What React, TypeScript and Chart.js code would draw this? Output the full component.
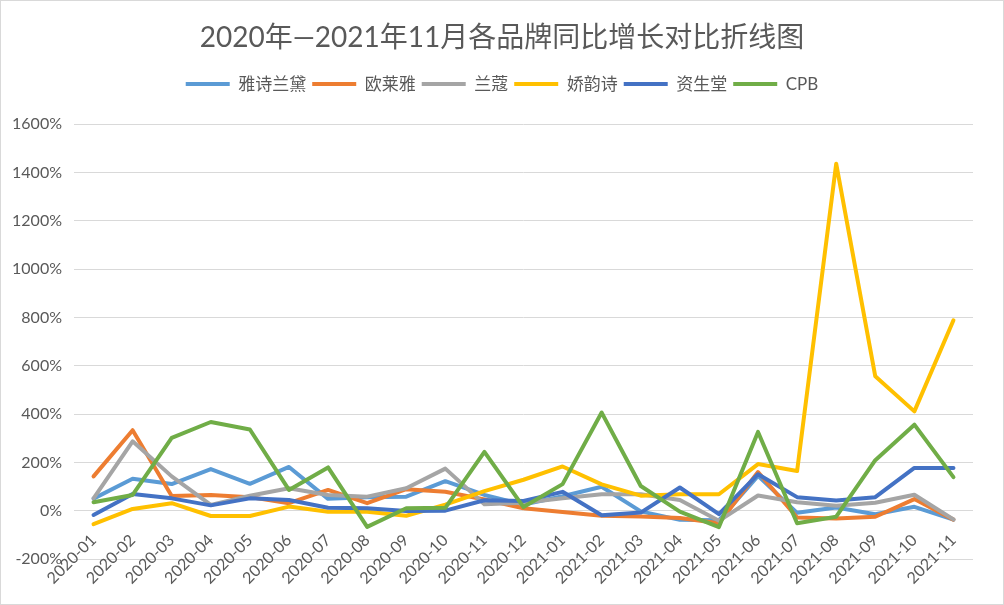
import React, { useEffect, useRef } from "react";
import { Chart, registerables } from "chart.js";

Chart.register(...registerables);

const months = [
  "2020-01", "2020-02", "2020-03", "2020-04", "2020-05", "2020-06",
  "2020-07", "2020-08", "2020-09", "2020-10", "2020-11", "2020-12",
  "2021-01", "2021-02", "2021-03", "2021-04", "2021-05", "2021-06",
  "2021-07", "2021-08", "2021-09", "2021-10", "2021-11",
];

const esteeLauder = [50, 132, 110, 172, 111, 181, 49, 56, 58, 122, 65, 25, 60, 99, -3, -38, -40, 144, -9, 13, -15, 16, -37];
const loreal = [142, 333, 61, 65, 56, 31, 86, 31, 89, 78, 46, 10, -5, -21, -24, -30, -52, 160, -28, -32, -25, 48, -37];
const lancome = [51, 287, 142, 24, 62, 93, 65, 58, 93, 174, 27, 33, 51, 68, 68, 44, -42, 63, 35, 20, 33, 66, -36];
const clarins = [-56, 7, 31, -22, -22, 17, -4, -4, -21, 25, 81, 128, 183, 109, 62, 68, 68, 193, 164, 1436, 556, 411, 788];
const shiseido = [-18, 69, 51, 22, 51, 44, 12, 10, -1, 0, 43, 40, 78, -19, -8, 96, -14, 151, 56, 42, 56, 177, 177];
const cpb = [35, 65, 301, 367, 336, 86, 179, -67, 10, 12, 243, 15, 110, 406, 102, -4, -68, 326, -52, -25, 209, 356, 139];

const seriesNames = ["雅诗兰黛", "欧莱雅", "兰蔻", "娇韵诗", "资生堂", "CPB"];
const seriesValues = [esteeLauder, loreal, lancome, clarins, shiseido, cpb];
const seriesColors = ["#5B9BD5", "#ED7D31", "#A5A5A5", "#FFC000", "#4472C4", "#70AD47"];

const titleText = "2020年—2021年11月各品牌同比增长对比折线图";
const yMin = -200;
const yMax = 1600;
const yStep = 200;

const FONT = "Lato, 'Noto Sans CJK SC', sans-serif";
const TEXT_COLOR = "#595959";

const legendSpacer = {
  id: "legendSpacer",
  beforeInit(chart: any) {
    const legend = chart.legend;
    if (!legend) return;
    const origFit = legend.fit;
    legend.fit = function fit() {
      origFit.call(this);
      this.height += 21.5;
    };
  },
};

export default function App() {
  const canvasRef = useRef<HTMLCanvasElement | null>(null);

  useEffect(() => {
    if (!canvasRef.current) return;
    const n = seriesNames.length;
    const chart = new Chart(canvasRef.current, {
      type: "line",
      data: {
        labels: months,
        datasets: seriesNames.map((name, i) => ({
          label: name,
          data: seriesValues[i],
          borderColor: seriesColors[i],
          backgroundColor: seriesColors[i],
          borderWidth: 4,
          pointRadius: 0,
          pointHoverRadius: 0,
          tension: 0,
          fill: false,
          borderCapStyle: "round",
          borderJoinStyle: "round",
          order: n - i,
          yAxisID: "y",
        })),
      },
      options: {
        responsive: false,
        animation: false,
        layout: { padding: { top: 0, right: 0, bottom: 46, left: 0 } },
        plugins: {
          title: {
            display: true,
            text: titleText,
            color: TEXT_COLOR,
            font: { family: FONT, size: 28, weight: "normal", lineHeight: 1.2 },
            padding: { top: 21, bottom: 15 },
          },
          legend: {
            display: true,
            position: "top",
            labels: {
              boxWidth: 44,
              boxHeight: 4,
              padding: 6,
              color: TEXT_COLOR,
              font: { family: FONT, size: 17 },
              sort: (a: any, b: any) => a.datasetIndex - b.datasetIndex,
              generateLabels: (c: any) =>
                (Chart.defaults.plugins.legend.labels.generateLabels as any)(c).map((l: any) => ({
                  ...l,
                  fillStyle: l.strokeStyle,
                  lineWidth: 0,
                })),
            },
          },
          tooltip: { enabled: false },
        },
        scales: {
          x: {
            type: "category",
            position: { y: 0 } as any,
            offset: true,
            grid: { display: false, drawTicks: false },
            border: { display: false },
            ticks: {
              color: TEXT_COLOR,
              font: { family: FONT, size: 16 },
              minRotation: 45,
              maxRotation: 45,
              autoSkip: false,
              padding: 20,
            },
          },
          y: {
            position: "left",
            min: yMin,
            max: yMax,
            ticks: {
              stepSize: yStep,
              color: TEXT_COLOR,
              font: { family: FONT, size: 16 },
              padding: 12,
              callback: (v: any) => `${v}%`,
            },
            grid: { color: "#d9d9d9", lineWidth: 1, drawTicks: false },
            border: { display: false },
            afterFit: (s: any) => {
              s.width = 74;
            },
          },
          yRight: {
            position: "right",
            display: true,
            min: yMin,
            max: yMax,
            ticks: { display: false },
            grid: { display: false, drawTicks: false },
            border: { display: false },
            afterFit: (s: any) => {
              s.width = 31;
            },
          },
        },
      },
      plugins: [legendSpacer],
    } as any);
    return () => chart.destroy();
  }, []);

  return (
    <div style={{ position: "fixed", left: 0, top: 0, width: 1004, height: 605, background: "#fff" }}>
      <canvas ref={canvasRef} width={1004} height={605} style={{ position: "absolute", left: 0, top: 0, width: 1004, height: 605 }} />
      <div
        style={{
          position: "absolute",
          left: 0,
          top: 0,
          width: 1004,
          height: 605,
          boxSizing: "border-box",
          border: "1px solid #d9d9d9",
          pointerEvents: "none",
        }}
      />
    </div>
  );
}
